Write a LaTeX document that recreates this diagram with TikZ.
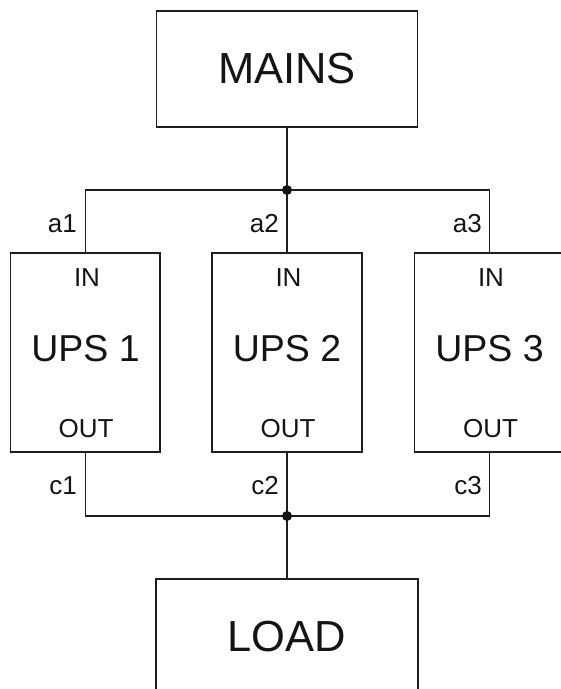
\documentclass[tikz,border=0pt]{standalone}
\usepackage{fontspec}
\setmainfont{Liberation Sans}
\begin{document}
\begin{tikzpicture}[x=1pt,y=-1pt]
\tikzset{
  wire/.style={line width=1.5pt, draw=black!88},
  box/.style={draw=black!88, line width=1.5pt, rectangle, inner sep=0pt, outer sep=0pt},
  big/.style={font=\fontsize{43.5}{50}\selectfont, text=black!92},
  upsf/.style={font=\fontsize{37.5}{44}\selectfont, text=black!92},
  small/.style={font=\fontsize{26}{30}\selectfont, text=black!92, inner sep=0pt},
  jdot/.style={circle, fill=black!92, inner sep=0pt, minimum size=10pt}
}
\useasboundingbox (0,0) rectangle (561,689);
\clip (0,0) rectangle (561,689);
% boxes
\node[box, big, minimum width=261pt, minimum height=116pt] (mains) at (287,69) {MAINS};
\node[box, big, minimum width=262pt, minimum height=115pt] (load) at (287,636.5) {LOAD};
\node[box, minimum width=149.3pt, minimum height=199pt] (u1) at (85.35,352.5) {};
\node[box, minimum width=150pt, minimum height=199pt] (u2) at (287,352.5) {};
\node[box, minimum width=150pt, minimum height=199pt] (u3) at (489.5,352.5) {};
% box texts
\node[upsf] (t1) at (85.5,349) {UPS 1};
\node[upsf] (t2) at (287,349) {UPS 2};
\node[upsf] (t3) at (489.5,349) {UPS 3};
\node[small] (in1) at (87,278) {IN};
\node[small] (in2) at (288.5,278) {IN};
\node[small] (in3) at (491,278) {IN};
\node[small] (out1) at (86,429) {OUT};
\node[small] (out2) at (288,429) {OUT};
\node[small] (out3) at (490.5,429) {OUT};
% junctions
\coordinate (j1) at (287,190);
\coordinate (j2) at (287,516);
% wires
\draw[wire] (u1.north) |- (j1) -| (u3.north);
\draw[wire] (mains.south) -- (j1) -- (u2.north);
\draw[wire] (u1.south) |- (j2) -| (u3.south);
\draw[wire] (u2.south) -- (j2) -- (load.north);
\node[jdot] (d1) at (j1) {};
\node[jdot] (d2) at (j2) {};
% labels
\node[small, anchor=east] (a1) at (77,223.5) {a1};
\node[small, anchor=east] (a2) at (279,223.5) {a2};
\node[small, anchor=east] (a3) at (482,223.5) {a3};
\node[small, anchor=east] (c1) at (77,486) {c1};
\node[small, anchor=east] (c2) at (279,486) {c2};
\node[small, anchor=east] (c3) at (482,486) {c3};
\end{tikzpicture}
\end{document}
